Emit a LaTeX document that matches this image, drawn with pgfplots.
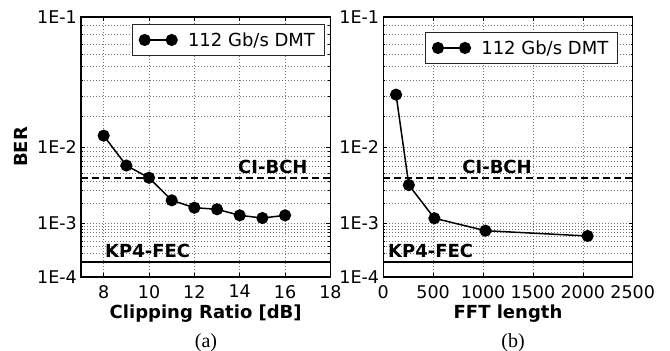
\documentclass[border=0pt]{standalone}
\usepackage{pgfplots}
\usepackage{pgfplotstable}
\pgfplotsset{compat=1.18}
\usepackage{fontspec}
\setmainfont{DejaVu Sans}
\newfontfamily\seriffont{Liberation Serif}

% BER values
\pgfplotstableread[row sep=\\]{
cr ber\\
8 1.31e-2\\
9 6.2e-3\\
10 4.4e-3\\
11 2.2e-3\\
12 1.72e-3\\
13 1.63e-3\\
14 1.32e-3\\
15 1.20e-3\\
16 1.32e-3\\
}\dataA
\pgfplotstableread[row sep=\\]{
fft ber\\
128 3.07e-2\\
256 3.55e-3\\
512 1.19e-3\\
1024 7.5e-4\\
2048 6.1e-4\\
}\dataB

% BER axis: position = log10(-log10(BER)), drawn downwards
\newcommand{\berT}{ln(-ln(\thisrow{ber})/ln(10))/ln(10)}

\pgfplotsset{
  berax/.style={
    scale only axis, width=249.4bp, height=260bp,
    y dir=reverse, ymin=0, ymax=0.60206,
    ytick={0,0.30103,0.47712,0.60206},
    yticklabels={1E-1,1E-2,1E-3,1E-4},
    minor ytick={0.01949,0.04017,0.06254,0.08702,0.11428,0.14549,0.18266,0.23019,
                 0.31084,0.32158,0.33344,0.34671,0.36192,0.37974,0.40189,0.43120,
                 0.48370,0.49093,0.49899,0.50811,0.51865,0.53122,0.54690,0.56808},
    xmajorgrids, ymajorgrids, yminorgrids,
    major grid style={black!55, line width=0.6bp, dash pattern=on 1bp off 2bp},
    minor grid style={black!55, line width=0.6bp, dash pattern=on 1bp off 2bp},
    tick align=inside, major tick length=4bp, minor tick length=2bp,
    tick style={black, line width=0.6bp},
    axis line style={line width=1.3bp},
    scaled x ticks=false,
    /pgf/number format/assume math mode=true,
    /pgf/number format/1000 sep={},
    tick label style={font=\fontsize{17.5bp}{20bp}\selectfont},
    xticklabel style={inner sep=0pt, anchor=north, yshift=-8bp},
    yticklabel style={inner sep=0pt, anchor=east, xshift=-4bp},
    xlabel style={font=\fontsize{18bp}{21bp}\selectfont\bfseries,
                  at={(axis description cs:0.5,-0.158)}, anchor=base},
    legend style={at={(1,1)}, anchor=north east, xshift=-6bp, yshift=-7bp,
                  draw=black!85, line width=0.8bp,
                  font=\fontsize{18bp}{21bp}\selectfont,
                  inner xsep=7bp, inner ysep=6bp},
    legend image code/.code={\draw[#1] plot coordinates {(0bp,0bp) (27bp,0bp)};},
    legend cell align=left,
  },
  berplot/.style={black, line width=1.5bp, mark=*, mark size=5.3bp,
                  mark options={solid, fill=black}},
}

\begin{document}
\begin{tikzpicture}
\useasboundingbox (0,0) rectangle (670bp,351bp);

\begin{axis}[berax, at={(81bp,74bp)}, anchor=south west,
  xmin=7, xmax=18, xtick={8,10,12,14,16,18},
  xlabel={Clipping Ratio [dB]},
  ylabel={BER},
  ylabel style={font=\fontsize{18bp}{21bp}\selectfont\bfseries,
                at={(axis description cs:-0.2406,0.5)}, anchor=center},
]
\addplot[black, line width=1.8bp, dash pattern=on 7bp off 4bp, forget plot]
  table[row sep=\\, x=x, y expr=\berT] {x ber\\ 7 4.4e-3\\ 18 4.4e-3\\};
\addplot[black, line width=1.8bp, forget plot]
  table[row sep=\\, x=x, y expr=\berT] {x ber\\ 7 2.0e-4\\ 18 2.0e-4\\};
\addplot[berplot] table[x=cr, y expr=\berT] {\dataA};
\addlegendentry{\hspace{9bp}112 Gb/s DMT}
\node[font=\fontsize{18bp}{21bp}\selectfont\bfseries, anchor=base east, inner sep=0pt]
  at (axis cs:17,0.37227) [yshift=4.5bp] {CI-BCH};
\node[font=\fontsize{18bp}{21bp}\selectfont\bfseries, anchor=base west, inner sep=0pt]
  at (axis cs:8.06,0.56808) [yshift=4.5bp] {KP4-FEC};
\end{axis}

\begin{axis}[berax, at={(383.3bp,74bp)}, anchor=south west,
  xmin=0, xmax=2500, xtick={0,500,1000,1500,2000,2500},
  xlabel={FFT length},
  legend style={xshift=-9bp, yshift=-8bp},
]
\addplot[black, line width=1.8bp, dash pattern=on 7bp off 4bp, forget plot]
  table[row sep=\\, x=x, y expr=\berT] {x ber\\ 0 4.4e-3\\ 2500 4.4e-3\\};
\addplot[black, line width=1.8bp, forget plot]
  table[row sep=\\, x=x, y expr=\berT] {x ber\\ 0 2.0e-4\\ 2500 2.0e-4\\};
\addplot[berplot] table[x=fft, y expr=\berT] {\dataB};
\addlegendentry{\hspace{9bp}112 Gb/s DMT}
\node[font=\fontsize{18bp}{21bp}\selectfont\bfseries, anchor=base east, inner sep=0pt]
  at (axis cs:1490,0.37227) [yshift=4.5bp] {CI-BCH};
\node[font=\fontsize{18bp}{21bp}\selectfont\bfseries, anchor=base west, inner sep=0pt]
  at (axis cs:47,0.56808) [yshift=4.5bp] {KP4-FEC};
\end{axis}

\node[font=\seriffont\fontsize{20bp}{23bp}\selectfont] at (206bp,8.5bp) {(a)};
\node[font=\seriffont\fontsize{20bp}{23bp}\selectfont] at (513bp,8.5bp) {(b)};
\end{tikzpicture}
\end{document}
